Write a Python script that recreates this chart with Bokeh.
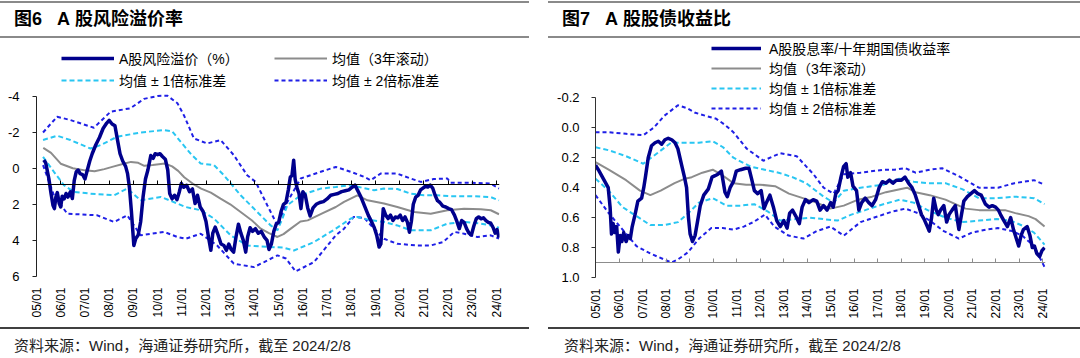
import math
from bokeh.plotting import figure
from bokeh.models import (Range1d, FixedTicker, LinearAxis, Legend, LegendItem, Div,
                          NumeralTickFormatter, Spacer)
from bokeh.layouts import row, column
from bokeh.embed import file_html
from bokeh.resources import INLINE

FONT = "Liberation Sans, Noto Sans CJK SC"
FONT_CSS = "'Liberation Sans','Noto Sans CJK SC',sans-serif"

# ---------------- data ----------------
tick_years = list(range(2005, 2025))
tick_labels = ["05/01", "06/01", "07/01", "08/01", "09/01", "10/01", "11/01", "12/01", "13/01", "14/01",
               "15/01", "16/01", "17/01", "18/01", "19/01", "20/01", "21/01", "22/01", "23/01", "24/01"]
erp_yticks = [-4, -2, 0, 2, 4, 6]
erp_ylabels = ["-4", "-2", "0", "2", "4", "6"]
dyr_yticks = [-0.2, 0.0, 0.2, 0.4, 0.6, 0.8, 1.0]

# Figure 6: equity risk premium (%)
erp_t = [2005.30, 2005.38, 2005.51, 2005.60, 2005.68, 2005.74, 2005.80, 2005.86, 2005.94, 2006.00, 2006.06, 2006.14,
         2006.22, 2006.30, 2006.40, 2006.48, 2006.56, 2006.64, 2006.72, 2006.80, 2006.90, 2007.00, 2007.10, 2007.20,
         2007.30, 2007.45, 2007.60, 2007.75, 2007.90, 2008.00, 2008.12, 2008.24, 2008.34, 2008.45, 2008.56, 2008.68,
         2008.76, 2008.84, 2008.92, 2009.02, 2009.10, 2009.20, 2009.30, 2009.40, 2009.50, 2009.60, 2009.72, 2009.82,
         2009.90, 2010.00, 2010.10, 2010.20, 2010.32, 2010.42, 2010.50, 2010.60, 2010.70, 2010.80, 2010.90, 2010.98,
         2011.08, 2011.20, 2011.32, 2011.44, 2011.55, 2011.65, 2011.76, 2011.88, 2012.00, 2012.10, 2012.20, 2012.28,
         2012.38, 2012.50, 2012.62, 2012.74, 2012.84, 2012.94, 2013.04, 2013.14, 2013.24, 2013.34, 2013.44, 2013.54,
         2013.64, 2013.72, 2013.82, 2013.92, 2014.04, 2014.16, 2014.28, 2014.40, 2014.52, 2014.60, 2014.70, 2014.80,
         2014.90, 2015.00, 2015.10, 2015.20, 2015.30, 2015.40, 2015.48, 2015.55, 2015.62, 2015.68, 2015.76, 2015.84,
         2015.92, 2016.00, 2016.10, 2016.20, 2016.30, 2016.42, 2016.55, 2016.70, 2016.85, 2017.00, 2017.15, 2017.30,
         2017.45, 2017.60, 2017.75, 2017.90, 2018.05, 2018.15, 2018.25, 2018.40, 2018.55, 2018.70, 2018.85, 2018.95,
         2019.05, 2019.15, 2019.22, 2019.32, 2019.42, 2019.52, 2019.62, 2019.72, 2019.82, 2019.92, 2020.02, 2020.12,
         2020.22, 2020.32, 2020.40, 2020.48, 2020.56, 2020.66, 2020.76, 2020.86, 2020.96, 2021.06, 2021.16, 2021.26,
         2021.36, 2021.46, 2021.56, 2021.66, 2021.78, 2021.90, 2022.02, 2022.14, 2022.26, 2022.36, 2022.46, 2022.56,
         2022.66, 2022.76, 2022.86, 2022.96, 2023.06, 2023.16, 2023.26, 2023.36, 2023.46, 2023.56, 2023.66, 2023.76,
         2023.86, 2023.94, 2024.02, 2024.10]
erp_v = [-0.45, -0.30, 0.57, 1.40, 2.05, 2.24, 1.60, 1.35, 1.96, 2.15, 1.55, 1.70,
         1.40, 1.60, 1.31, 1.68, 0.67, 0.20, 0.10, 0.30, 0.35, 0.60, 0.10, -0.40,
         -0.80, -1.30, -1.70, -2.20, -2.50, -2.65, -2.45, -2.35, -1.60, -0.80, -0.40, -0.10,
         0.30, 1.10, 2.40, 4.28, 3.90, 3.70, 2.98, 1.60, 0.60, 0.10, -0.70, -0.55,
         -0.80, -0.75, -0.80, -0.65, -0.50, 0.10, 1.40, 1.70, 1.50, 1.75, 1.30, 0.85,
         1.05, 0.95, 1.30, 1.15, 1.96, 1.50, 2.15, 2.40, 2.95, 3.80, 4.55, 3.60,
         3.26, 3.70, 4.20, 4.28, 4.55, 4.20, 4.50, 4.65, 3.80, 3.10, 3.60, 4.00,
         4.65, 3.80, 3.30, 3.50, 3.35, 3.60, 3.50, 3.80, 4.00, 4.50, 4.20, 3.50,
         3.10, 3.00, 2.40, 2.00, 1.90, 1.20, 0.50, 0.40, -0.44, 0.60, 1.10, 1.40,
         2.24, 1.30, 1.50, 2.20, 2.65, 2.20, 2.00, 1.90, 1.85, 1.70, 1.50, 1.45,
         1.40, 1.30, 1.25, 1.20, 1.04, 0.94, 1.20, 1.60, 2.10, 2.60, 3.00, 3.30,
         3.72, 4.37, 4.20, 2.24, 2.60, 2.79, 2.60, 2.90, 2.70, 2.75, 2.60, 2.90,
         2.70, 3.00, 3.55, 2.95, 2.00, 1.60, 1.50, 1.20, 1.10, 1.00, 1.04, 0.94,
         1.10, 1.50, 1.80, 1.90, 2.10, 2.15, 2.24, 2.30, 2.60, 2.95, 3.35, 2.90,
         3.00, 3.35, 3.60, 3.70, 3.20, 2.80, 2.70, 2.80, 2.75, 2.90, 3.00, 3.05,
         3.30, 3.60, 3.40, 3.85]

erp_mean_t = [2005.28, 2005.60, 2006.00, 2006.50, 2007.00, 2007.40, 2007.80, 2008.20, 2008.60, 2008.90, 2009.20,
              2009.45, 2009.80, 2010.30, 2010.60, 2010.85, 2011.10, 2011.50, 2011.80, 2012.20, 2012.60, 2013.00,
              2013.43, 2013.90, 2014.26, 2014.60, 2014.95, 2015.20, 2015.50, 2015.90, 2016.20, 2016.80, 2017.36,
              2017.70, 2018.25, 2018.67, 2019.35, 2019.90, 2020.60, 2021.28, 2021.97, 2022.66, 2023.35, 2023.76,
              2024.10]
erp_mean_v = [-1.13, -0.85, -0.25, 0.00, 0.12, 0.17, 0.05, -0.10, -0.25, -0.35, -0.30,
              -0.13, -0.18, -0.26, -0.10, 0.15, 0.50, 0.90, 1.13, 1.35, 1.68, 2.00,
              2.43, 2.90, 3.35, 3.60, 3.81, 3.65, 3.35, 2.95, 2.89, 2.50, 2.15,
              1.87, 1.50, 1.78, 1.96, 2.15, 2.43, 2.52, 2.33, 2.24, 2.28, 2.33,
              2.55]

erp_sd1a_t = [2005.27, 2005.85, 2006.40, 2007.23, 2007.64, 2008.33, 2009.30, 2010.27, 2010.60, 2010.95, 2011.40,
              2011.78, 2012.33, 2012.74, 2013.43, 2014.12, 2014.67, 2014.95, 2015.15, 2015.36, 2015.91, 2016.74,
              2017.36, 2017.98, 2018.50, 2018.94, 2019.35, 2019.90, 2020.45, 2021.00, 2021.56, 2022.10, 2022.94,
              2023.76, 2024.10]
erp_sd1a_v = [-1.56, -1.80, -1.56, -1.09, -1.28, -1.74, -1.98, -2.11, -2.05, -1.47, -0.75,
              -0.26, -0.17, 0.39, 1.50, 2.43, 3.17, 3.44, 2.80, 2.05, 1.50, 1.13,
              1.04, 0.94, 1.10, 1.22, 1.13, 1.15, 1.41, 1.50, 1.50, 1.55, 1.55,
              1.60, 1.78]

erp_sd1b_t = [2005.27, 2005.72, 2006.13, 2006.54, 2007.23, 2008.20, 2008.75, 2009.30, 2010.13, 2010.82, 2011.16,
              2011.78, 2012.33, 2013.02, 2013.70, 2014.67, 2015.20, 2015.63, 2016.46, 2017.36, 2017.98, 2018.25,
              2018.70, 2019.35, 2019.90, 2020.45, 2021.28, 2021.97, 2022.66, 2023.35, 2023.76, 2024.10]
erp_sd1b_v = [-0.63, 0.20, 0.94, 1.31, 1.41, 1.50, 1.13, 1.78, 1.59, 1.96, 2.15,
              2.33, 2.79, 3.72, 4.28, 4.37, 4.40, 4.56, 4.09, 3.35, 2.79, 2.70,
              2.85, 2.98, 3.17, 3.44, 3.44, 3.07, 2.98, 3.07, 3.17, 3.30]

erp_sd2a_t = [2005.27, 2005.85, 2006.40, 2007.37, 2008.06, 2008.88, 2009.44, 2010.00, 2010.40, 2010.82, 2011.10,
              2011.50, 2012.05, 2012.60, 2013.15, 2013.70, 2014.05, 2014.53, 2014.95, 2015.36, 2015.91, 2016.74,
              2017.36, 2017.98, 2018.53, 2018.80, 2019.21, 2019.90, 2020.45, 2020.87, 2021.40, 2021.97, 2022.10,
              2022.94, 2023.76, 2024.10]
erp_sd2a_v = [-1.98, -2.85, -2.67, -2.24, -3.13, -3.32, -3.84, -4.00, -4.02, -3.60, -2.90,
              -1.65, -1.37, -1.56, -0.72, 0.39, 0.76, 2.05, 3.17, 1.87, 0.57, 0.20,
              -0.07, 0.20, 0.48, 0.67, 0.30, 0.30, 0.57, 0.76, 0.60, 0.57, 0.81,
              0.81, 0.85, 1.13]

erp_sd2b_t = [2005.27, 2005.72, 2006.27, 2007.51, 2008.20, 2008.75, 2009.30, 2010.27, 2010.82, 2011.16, 2011.78,
              2012.46, 2013.15, 2013.98, 2014.40, 2014.95, 2015.30, 2015.70, 2016.46, 2017.36, 2017.70, 2018.10,
              2018.53, 2018.94, 2019.35, 2019.90, 2020.73, 2021.28, 2021.80, 2022.25, 2022.66, 2023.20, 2023.76,
              2024.10]
erp_sd2b_v = [-0.17, 1.50, 2.52, 2.61, 2.98, 2.61, 3.72, 3.53, 3.81, 3.91, 3.63,
              4.28, 5.29, 5.48, 5.20, 4.83, 5.00, 5.72, 5.20, 3.72, 3.35, 2.70,
              2.75, 3.35, 3.91, 4.19, 4.28, 4.28, 4.09, 3.53, 3.63, 3.81, 3.72,
              3.90]

# Figure 7: dividend yield / 10y government bond yield
dyr_t = [2005.00, 2005.12, 2005.26, 2005.40, 2005.54, 2005.62, 2005.68, 2005.75, 2005.82, 2005.90, 2005.97, 2006.05,
         2006.12, 2006.20, 2006.30, 2006.39, 2006.48, 2006.56, 2006.68, 2006.80, 2006.96, 2007.05, 2007.12, 2007.24,
         2007.38, 2007.53, 2007.67, 2007.81, 2007.95, 2008.09, 2008.24, 2008.38, 2008.50, 2008.66, 2008.78, 2008.87,
         2008.95, 2009.02, 2009.12, 2009.23, 2009.33, 2009.45, 2009.60, 2009.79, 2009.95, 2010.08, 2010.20, 2010.35,
         2010.50, 2010.60, 2010.72, 2010.86, 2010.98, 2011.16, 2011.38, 2011.52, 2011.63, 2011.75, 2011.89, 2012.04,
         2012.16, 2012.26, 2012.41, 2012.56, 2012.70, 2012.85, 2013.00, 2013.14, 2013.25, 2013.37, 2013.51, 2013.66,
         2013.78, 2013.92, 2014.07, 2014.25, 2014.40, 2014.54, 2014.69, 2014.84, 2014.99, 2015.10, 2015.21, 2015.31,
         2015.43, 2015.54, 2015.65, 2015.72, 2015.84, 2015.94, 2016.09, 2016.19, 2016.31, 2016.46, 2016.61, 2016.75,
         2016.90, 2017.05, 2017.19, 2017.34, 2017.49, 2017.64, 2017.78, 2018.00, 2018.15, 2018.30, 2018.45, 2018.59,
         2018.73, 2018.85, 2018.96, 2019.10, 2019.18, 2019.28, 2019.37, 2019.48, 2019.56, 2019.66, 2019.80, 2019.92,
         2020.02, 2020.15, 2020.29, 2020.38, 2020.44, 2020.55, 2020.65, 2020.80, 2020.95, 2021.10, 2021.24, 2021.39,
         2021.57, 2021.72, 2021.86, 2022.00, 2022.12, 2022.21, 2022.35, 2022.50, 2022.64, 2022.76, 2022.84, 2022.98,
         2023.08, 2023.18, 2023.34, 2023.46, 2023.56, 2023.65, 2023.75, 2023.87, 2023.97, 2024.08]
dyr_v = [0.25, 0.28, 0.32, 0.36, 0.40, 0.53, 0.71, 0.64, 0.70, 0.66, 0.83, 0.72,
         0.76, 0.70, 0.76, 0.72, 0.74, 0.66, 0.58, 0.49, 0.47, 0.40, 0.33, 0.20,
         0.12, 0.10, 0.09, 0.11, 0.08, 0.07, 0.08, 0.10, 0.14, 0.25, 0.33, 0.40,
         0.60, 0.71, 0.76, 0.72, 0.63, 0.52, 0.45, 0.41, 0.33, 0.32, 0.31, 0.29,
         0.43, 0.46, 0.40, 0.36, 0.29, 0.28, 0.27, 0.27, 0.34, 0.42, 0.44, 0.42,
         0.54, 0.50, 0.45, 0.53, 0.62, 0.66, 0.62, 0.67, 0.57, 0.55, 0.59, 0.64,
         0.53, 0.48, 0.50, 0.48, 0.49, 0.55, 0.52, 0.55, 0.50, 0.53, 0.44, 0.42,
         0.33, 0.26, 0.24, 0.33, 0.30, 0.39, 0.42, 0.55, 0.50, 0.47, 0.50, 0.52,
         0.48, 0.40, 0.36, 0.37, 0.35, 0.37, 0.35, 0.35, 0.33, 0.37, 0.40, 0.45,
         0.52, 0.58, 0.61, 0.66, 0.69, 0.60, 0.47, 0.55, 0.58, 0.55, 0.52, 0.63,
         0.58, 0.55, 0.52, 0.62, 0.68, 0.58, 0.49, 0.46, 0.44, 0.42, 0.44, 0.45,
         0.51, 0.53, 0.52, 0.53, 0.55, 0.58, 0.62, 0.66, 0.60, 0.68, 0.72, 0.79,
         0.72, 0.68, 0.66, 0.72, 0.80, 0.79, 0.84, 0.86, 0.82, 0.80]

dyr_mean_t = [2005.00, 2005.56, 2006.30, 2006.89, 2007.33, 2007.77, 2008.36, 2008.80, 2009.09, 2009.54, 2009.98,
              2010.42, 2010.86, 2011.40, 2011.99, 2012.63, 2013.22, 2013.81, 2014.40, 2014.98, 2015.55, 2016.16,
              2016.75, 2017.34, 2017.93, 2018.24, 2018.60, 2019.20, 2019.87, 2020.72, 2021.30, 2021.86, 2022.40,
              2022.84, 2023.40, 2023.70, 2024.08]
dyr_mean_v = [0.23, 0.28, 0.35, 0.42, 0.45, 0.42, 0.37, 0.34, 0.33, 0.30, 0.28,
              0.32, 0.37, 0.38, 0.38, 0.39, 0.44, 0.47, 0.50, 0.54, 0.52, 0.48,
              0.46, 0.43, 0.41, 0.40, 0.43, 0.45, 0.48, 0.54, 0.55, 0.55, 0.55,
              0.57, 0.59, 0.61, 0.66]

dyr_sd1a_t = [2005.00, 2005.56, 2006.30, 2007.03, 2007.62, 2008.21, 2008.80, 2009.39, 2009.98, 2010.42, 2010.86,
              2011.60, 2012.19, 2012.78, 2013.37, 2013.95, 2014.69, 2015.12, 2015.55, 2016.26, 2017.25, 2017.90,
              2018.52, 2019.11, 2019.87, 2020.58, 2021.29, 2022.05, 2022.84, 2023.63, 2024.08]
dyr_sd1a_v = [0.13, 0.15, 0.19, 0.24, 0.17, 0.10, 0.10, 0.10, 0.09, 0.13, 0.20,
              0.26, 0.28, 0.30, 0.33, 0.37, 0.46, 0.50, 0.42, 0.40, 0.38, 0.34,
              0.36, 0.37, 0.37, 0.41, 0.47, 0.47, 0.46, 0.47, 0.51]

dyr_sd1b_t = [2005.00, 2005.56, 2006.15, 2006.74, 2007.33, 2007.92, 2008.51, 2008.95, 2009.39, 2009.98, 2010.57,
              2011.16, 2011.75, 2012.33, 2012.85, 2013.51, 2014.10, 2014.69, 2015.28, 2015.87, 2016.46, 2017.03,
              2017.93, 2018.52, 2019.11, 2019.87, 2020.58, 2021.29, 2022.05, 2022.64, 2023.23, 2023.63, 2024.08]
dyr_sd1b_v = [0.34, 0.42, 0.53, 0.59, 0.65, 0.65, 0.63, 0.57, 0.50, 0.47, 0.52,
              0.52, 0.51, 0.56, 0.62, 0.61, 0.60, 0.61, 0.62, 0.58, 0.55, 0.52,
              0.48, 0.50, 0.55, 0.60, 0.63, 0.62, 0.61, 0.62, 0.66, 0.70, 0.78]

dyr_sd2a_t = [2005.00, 2005.56, 2006.30, 2007.03, 2007.47, 2007.92, 2008.50, 2008.90, 2009.24, 2009.68, 2010.13,
              2010.50, 2010.86, 2011.43, 2012.13, 2012.85, 2013.55, 2014.26, 2014.69, 2015.12, 2015.55, 2016.26,
              2017.25, 2017.70, 2018.17, 2018.60, 2019.20, 2019.73, 2020.40, 2021.29, 2022.10, 2022.80, 2023.63,
              2024.08]
dyr_sd2a_v = [0.03, 0.03, 0.04, 0.05, 0.00, -0.08, -0.15, -0.13, -0.10, -0.08, -0.06,
              -0.02, 0.03, 0.14, 0.22, 0.17, 0.19, 0.31, 0.40, 0.44, 0.31, 0.30,
              0.28, 0.28, 0.27, 0.30, 0.28, 0.27, 0.32, 0.40, 0.40, 0.37, 0.35,
              0.38]

dyr_sd2b_t = [2005.00, 2005.56, 2006.15, 2006.74, 2007.33, 2007.92, 2008.22, 2008.50, 2008.94, 2009.40, 2009.92,
              2010.40, 2010.86, 2011.30, 2011.71, 2012.20, 2012.60, 2013.20, 2013.84, 2014.40, 2014.98, 2015.55,
              2016.26, 2017.03, 2017.60, 2018.17, 2018.70, 2019.20, 2019.80, 2020.44, 2021.00, 2021.60, 2022.10,
              2022.70, 2023.13, 2023.63, 2024.08]
dyr_sd2b_v = [0.45, 0.57, 0.68, 0.79, 0.84, 0.88, 0.90, 0.88, 0.83, 0.74, 0.67,
              0.67, 0.68, 0.66, 0.63, 0.58, 0.66, 0.72, 0.74, 0.69, 0.66, 0.72,
              0.63, 0.59, 0.56, 0.54, 0.57, 0.62, 0.69, 0.74, 0.70, 0.68, 0.67,
              0.69, 0.72, 0.79, 0.93]

# ---------------- styles ----------------
C_MAIN = "#00008c"
C_MEAN = "#8c8c8c"
C_SD1 = "#29c6f2"
C_SD2 = "#1f1fe6"


def make_fig(width, height, ml, mr, mt, mb, y_range, yticks, ybounds, yfmt, ylabels,
             yaxis_col, line_col, standoff):
    p = figure(width=width, height=height, x_range=Range1d(2005.0, 2024.12), y_range=y_range,
               output_backend="svg", toolbar_location=None, x_axis_location=None,
               min_border_left=ml, min_border_right=mr, min_border_top=mt, min_border_bottom=mb,
               outline_line_color=None, background_fill_color="white", border_fill_color="white")
    p.grid.visible = False
    ya = p.yaxis[0]
    ya.ticker = FixedTicker(ticks=yticks)
    ya.bounds = ybounds
    if yfmt:
        ya.formatter = NumeralTickFormatter(format=yfmt)
    if ylabels:
        ya.major_label_overrides = dict(zip(yticks, ylabels))
    ya.axis_line_color = yaxis_col
    ya.major_tick_line_color = yaxis_col
    ya.major_tick_in = 0
    ya.major_tick_out = 4
    ya.minor_tick_line_color = None
    ya.major_label_standoff = standoff
    ya.major_label_text_font = FONT
    ya.major_label_text_font_size = "13px"
    ya.major_label_text_color = "black"

    # horizontal axis line crossing at 0.9, ticks pointing into the plot
    ax_line = LinearAxis(fixed_location=0.9, ticker=FixedTicker(ticks=tick_years),
                         major_label_overrides={y: "" for y in tick_years},
                         axis_line_color=line_col, axis_line_width=1.2,
                         major_tick_line_color=line_col, major_tick_in=4, major_tick_out=0,
                         minor_tick_line_color=None)
    p.add_layout(ax_line, "below")
    # labels at the bottom of the frame
    ax_lab = LinearAxis(ticker=FixedTicker(ticks=tick_years),
                        major_label_overrides=dict(zip(tick_years, tick_labels)),
                        axis_line_color=None, major_tick_line_color=None, minor_tick_line_color=None,
                        major_tick_in=0, major_tick_out=0,
                        major_label_orientation=math.pi / 2, major_label_standoff=11,
                        major_label_text_font=FONT, major_label_text_font_size="12px",
                        major_label_text_color="black")
    p.add_layout(ax_lab, "below")
    return p


def draw_series(p, main_t, main_v, mean_t, mean_v, s1a_t, s1a_v, s1b_t, s1b_v, s2a_t, s2a_v, s2b_t, s2b_v):
    r2a = p.line(s2a_t, s2a_v, line_color=C_SD2, line_width=2, line_dash="4 3")
    r2b = p.line(s2b_t, s2b_v, line_color=C_SD2, line_width=2, line_dash="4 3")
    r1a = p.line(s1a_t, s1a_v, line_color=C_SD1, line_width=2, line_dash="5 3")
    r1b = p.line(s1b_t, s1b_v, line_color=C_SD1, line_width=2, line_dash="5 3")
    rm = p.line(mean_t, mean_v, line_color=C_MEAN, line_width=2)
    rmain = p.line(main_t, main_v, line_color=C_MAIN, line_width=3.5, line_join="round")
    return rmain, rm, [r1a, r1b], [r2a, r2b]


def legend(items, loc, gw, gh, sp, so, fs):
    return Legend(items=items, location=loc, orientation="vertical",
                  border_line_color=None, background_fill_alpha=0, padding=0, margin=0,
                  spacing=sp, glyph_width=gw, glyph_height=gh, label_height=gh, label_standoff=so,
                  label_text_font=FONT, label_text_font_size=fs, label_text_color="black")


def title_div(text, width, left):
    html = (f'<div style="position:relative;width:{width}px;height:38px;">'
            f'<div style="position:absolute;left:0;top:1px;width:{width}px;height:2px;background:#8a8a8a;"></div>'
            f'<div style="position:absolute;left:{left}px;top:8px;font-family:{FONT_CSS};font-weight:bold;'
            f'font-size:18px;line-height:22px;color:#000;white-space:nowrap;">{text}</div>'
            f'<div style="position:absolute;left:0;top:36px;width:{width}px;height:2px;background:#8a8a8a;"></div>'
            f'</div>')
    return Div(text=html, width=width, height=38, margin=0)


def source_div(text, width, left):
    html = (f'<div style="position:relative;width:{width}px;height:32px;">'
            f'<div style="position:absolute;left:0;top:1px;width:{width}px;height:2px;background:#404040;"></div>'
            f'<div style="position:absolute;left:{left}px;top:10px;font-family:{FONT_CSS};'
            f'font-size:15px;line-height:20px;color:#222;white-space:nowrap;">{text}</div>'
            f'</div>')
    return Div(text=html, width=width, height=32, margin=0)


# ---------------- left panel ----------------
# frame extends up to the legend area; the y axis line is bounded to [-4, 6]
pL = make_fig(529, 288, 36, 30, 2, 50, Range1d(6, -7.075), erp_yticks, (-4, 6), None, erp_ylabels,
              "#222222", "#000000", 13)
mL, meL, s1L, s2L = draw_series(pL, erp_t, erp_v, erp_mean_t, erp_mean_v, erp_sd1a_t, erp_sd1a_v,
                                erp_sd1b_t, erp_sd1b_v, erp_sd2a_t, erp_sd2a_v, erp_sd2b_t, erp_sd2b_v)
legL1 = legend([LegendItem(label="A股风险溢价（%）", renderers=[mL]),
                LegendItem(label="均值 ± 1倍标准差", renderers=[s1L[0]])],
               (25, 186), 53, 16, 2, 5, "14px")
legL2 = legend([LegendItem(label="均值（3年滚动）", renderers=[meL]),
                LegendItem(label="均值 ± 2倍标准差", renderers=[s2L[0]])],
               (238, 186), 53, 16, 2, 5, "14px")
pL.add_layout(legL1)
pL.add_layout(legL2)

# ---------------- right panel ----------------
pR = make_fig(532, 288, 47, 35, 2, 49, Range1d(1.0, -0.583), dyr_yticks, (-0.2, 1.0), "0.0", None,
              "#333333", "#8c8c8c", 12)
mR, meR, s1R, s2R = draw_series(pR, dyr_t, dyr_v, dyr_mean_t, dyr_mean_v, dyr_sd1a_t, dyr_sd1a_v,
                                dyr_sd1b_t, dyr_sd1b_v, dyr_sd2a_t, dyr_sd2a_v, dyr_sd2b_t, dyr_sd2b_v)
legR = legend([LegendItem(label="A股股息率/十年期国债收益率", renderers=[mR]),
               LegendItem(label="均值（3年滚动）", renderers=[meR]),
               LegendItem(label="均值 ± 1倍标准差", renderers=[s1R[0]]),
               LegendItem(label="均值 ± 2倍标准差", renderers=[s2R[0]])],
              (116, 159), 50, 14, -2, 8, "14px")
pR.add_layout(legR)

src = "资料来源：Wind，海通证券研究所，截至 2024/2/8"
colL = column(title_div("图6&nbsp;&nbsp;&nbsp;A&nbsp;股风险溢价率", 529, 14), pL, source_div(src, 529, 14))
colR = column(title_div("图7&nbsp;&nbsp;&nbsp;A&nbsp;股股债收益比", 532, 14), pR, source_div(src, 532, 16))
root = row(colL, Spacer(width=19, height=358), colR,
           styles={"position": "absolute", "left": "0px", "top": "0px"})

open("out.html", "w").write(file_html(root, INLINE))
